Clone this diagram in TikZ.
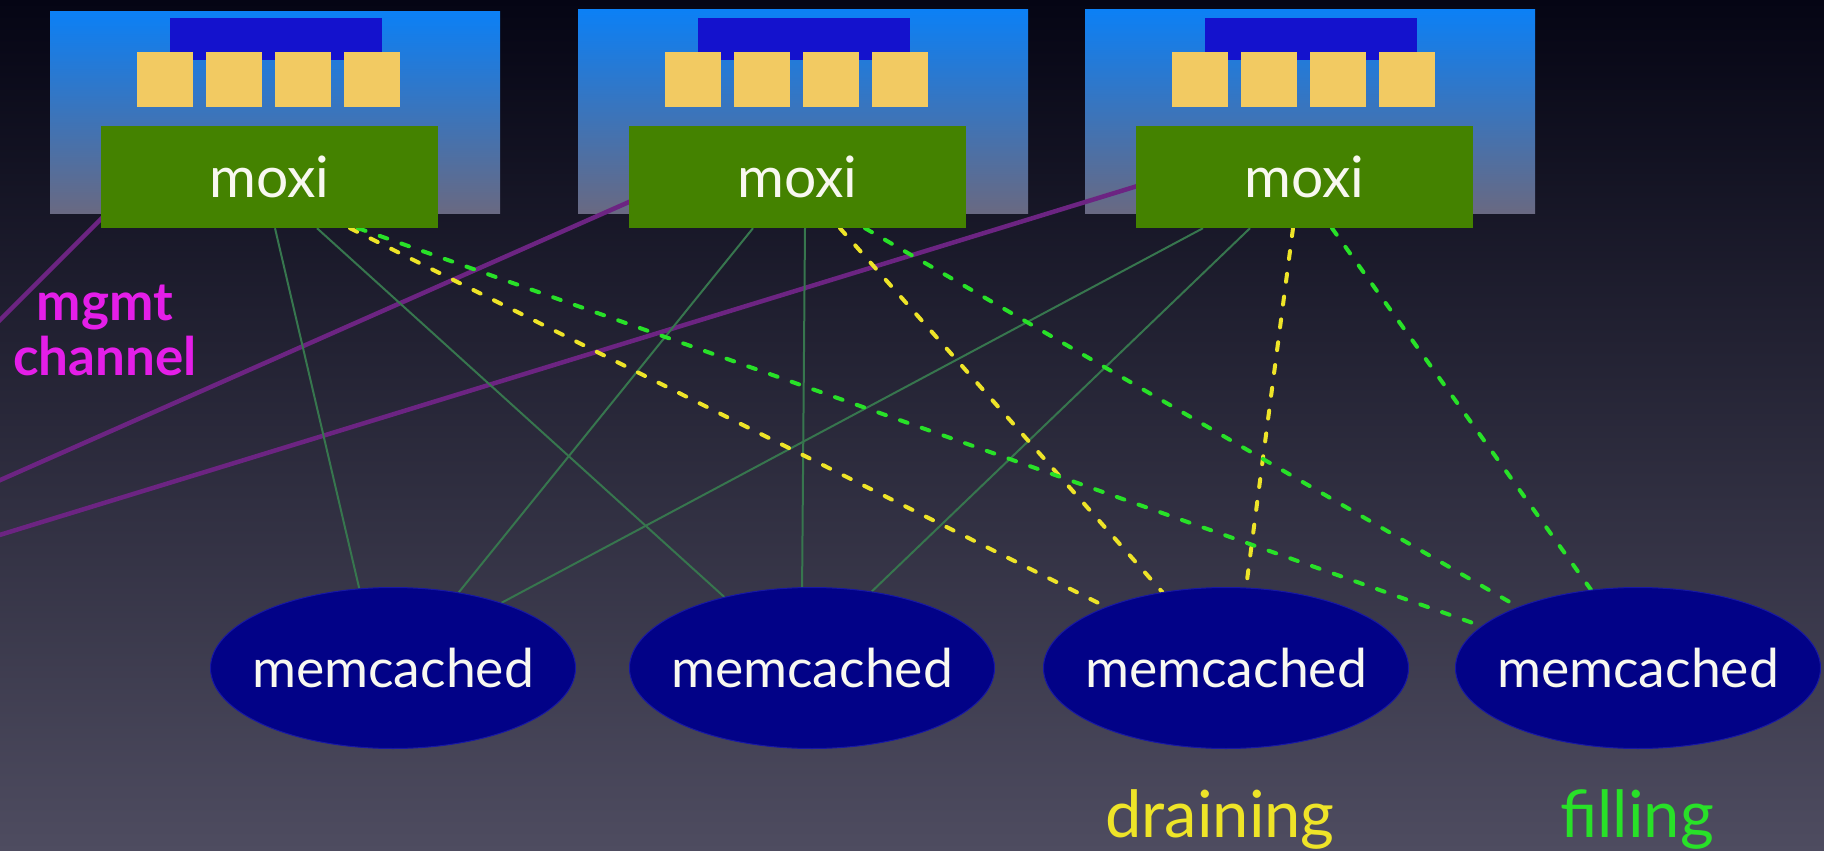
\documentclass[tikz,border=0pt]{standalone}
\usepackage{fontspec}
\setmainfont{Lato}
\usetikzlibrary{shapes.geometric}
\definecolor{bgtop}{RGB}{5,5,20}
\definecolor{bgbot}{RGB}{78,76,96}
\definecolor{boxtop}{RGB}{12,128,245}
\definecolor{boxmid}{RGB}{32,100,212}
\definecolor{boxbot}{RGB}{105,105,130}
\definecolor{barblue}{RGB}{20,18,205}
\definecolor{sqyellow}{RGB}{242,202,98}
\definecolor{moxigreen}{RGB}{68,130,0}
\definecolor{navyfill}{RGB}{2,2,135}
\definecolor{navyedge}{RGB}{24,24,165}
\definecolor{linkgreen}{RGB}{55,118,78}
\definecolor{mgmtpurple}{RGB}{108,36,130}
\definecolor{drainy}{RGB}{238,228,40}
\definecolor{fillg}{RGB}{40,225,40}
\definecolor{mgmtpink}{RGB}{228,30,232}
\definecolor{txtwhite}{RGB}{248,248,240}
\pgfdeclarelayer{bglayer}
\pgfdeclarelayer{linklayer}
\pgfsetlayers{bglayer,linklayer,main}
\begin{document}
\begin{tikzpicture}[x=1pt,y=-1pt,
  moxibox/.style={fill=moxigreen, minimum width=337pt, minimum height=102pt, inner sep=0pt, text=txtwhite, font=\fontsize{57}{64}\selectfont},
  memc/.style={ellipse, fill=navyfill, draw=navyedge, line width=1pt, minimum width=365pt, minimum height=161pt, inner sep=0pt},
  memtxt/.style={text=txtwhite, font=\fontsize{53.5}{60}\selectfont, inner sep=0pt},
  link/.style={draw=linkgreen, line width=2pt},
  drainlink/.style={draw=drainy, line width=4pt, dash pattern=on 8pt off 15pt, line cap=round},
  filllink/.style={draw=fillg, line width=4pt, dash pattern=on 8pt off 15pt, line cap=round},
  mgmtline/.style={draw=mgmtpurple, line width=4.5pt},
  statetxt/.style={font=\fontsize{65}{72}\selectfont, anchor=base, inner sep=0pt},
  mgmttxt/.style={font=\bfseries\fontsize{53}{60}\selectfont, text=mgmtpink, anchor=base, inner sep=0pt}
]
\useasboundingbox (0,0) rectangle (1824,851);
\clip (0,0) rectangle (1824,851);

\begin{pgfonlayer}{bglayer}
\shade[top color=bgtop, bottom color=bgbot] (0,0) rectangle (1824,851);
\foreach \L/\T in {50/12, 578/10, 1085/10} {
  \shade[top color=boxtop, middle color=boxmid, bottom color=boxbot] (\L,\T) rectangle (\L+450,213);
  \fill[barblue] (\L+120,18) rectangle (\L+332,60);
  \foreach \k in {0,...,3} \fill[sqyellow] (\L+87+\k*69,52) rectangle (\L+143+\k*69,107);
}
\end{pgfonlayer}

% moxi boxes
\node[moxibox] (moxi1) at (269.5,177) {moxi};
\node[moxibox] (moxi2) at (797.5,177) {moxi};
\node[moxibox] (moxi3) at (1304.5,177) {moxi};

% memcached servers
\node[memc] (e1) at (393,668) {};
\node[memc] (e2) at (812,668) {};
\node[memc] (e3) at (1226,668) {};
\node[memc] (e4) at (1638,668) {};
\node[memtxt] (t1) at (e1.center) {memcached};
\node[memtxt] (t2) at (e2.center) {memcached};
\node[memtxt] (t3) at (e3.center) {memcached};
\node[memtxt] (t4) at (e4.center) {memcached};

% off-picture ends of the management channel
\coordinate (mA) at (-20,340);
\coordinate (mB) at (-20,489);
\coordinate (mC) at (-20,541);

\begin{pgfonlayer}{linklayer}
\draw[mgmtline] ([shift={(9,-18)}]moxi1.south west) -- (mA);
\draw[mgmtline] ([shift={(11,-31)}]moxi2.south west) -- (mB);
\draw[mgmtline] ([shift={(14,-46)}]moxi3.south west) -- (mC);

\draw[link] ([shift={(5.5,0)}]moxi1.south) -- (e1.113);
\draw[link] ([shift={(47.5,0)}]moxi1.south) -- (e2.141);
\draw[link] ([shift={(-44.5,0)}]moxi2.south) -- (e1.49);
\draw[link] ([shift={(7.5,0)}]moxi2.south) -- (e2.97);
\draw[link] ([shift={(-101.5,0)}]moxi3.south) -- (e1.31);
\draw[link] ([shift={(-54.5,0)}]moxi3.south) -- (e2.52);

\draw[drainlink] ([shift={(80.5,0)}]moxi1.south) -- (e3.153);
\draw[drainlink] ([shift={(42.5,0)}]moxi2.south) -- (e3.130);
\draw[drainlink] ([shift={(-11.5,0)}]moxi3.south) -- (e3.76);
\draw[filllink] ([shift={(88.5,0)}]moxi1.south) -- (e4.165);
\draw[filllink] ([shift={(67.5,0)}]moxi2.south) -- (e4.153);
\draw[filllink] ([shift={(27.5,0)}]moxi3.south) -- (e4.121);
\end{pgfonlayer}

% labels
\node[statetxt, text=drainy] (drain) at (1220,837) {draining};
\node[statetxt, text=fillg] (filling) at (1637,837) {filling};
\node[mgmttxt] (mgmt) at (105,320) {mgmt};
\node[mgmttxt] (chan) at (105,375) {channel};
\end{tikzpicture}
\end{document}
